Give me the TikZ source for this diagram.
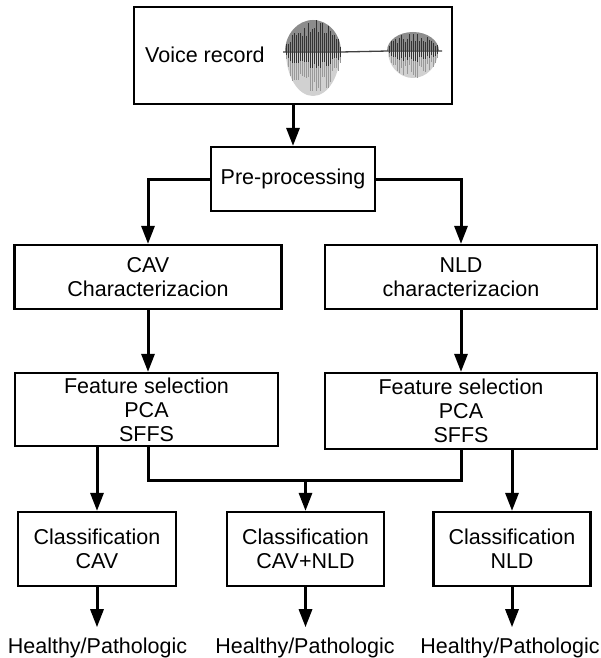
\documentclass[tikz,border=0pt]{standalone}
\usepackage{fontspec}
\setmainfont{Liberation Sans}
\usetikzlibrary{arrows.meta}
\begin{document}
\begin{tikzpicture}[x=1pt, y=-1pt,
    box/.style={draw, line width=2.2pt, inner sep=0pt, align=center, font=\fontsize{21.5}{24}\selectfont},
    outtext/.style={inner sep=0pt, anchor=base, font=\fontsize{21.5}{24}\selectfont},
    flow/.style={->, line width=3pt},
    >={Triangle[width=13pt, length=18pt]}]
  \useasboundingbox (0,0) rectangle (600,658);
  % boxes
  \node[box, minimum width=318pt, minimum height=97pt] (voice) at (293,55.5) {};
  \node[anchor=west, inner sep=0pt, font=\fontsize{21.5}{24}\selectfont] (voicetext) at (145,55) {Voice record};
  \node[box, minimum width=164pt, minimum height=64pt] (pre) at (293,179) {Pre-processing};
  \node[box, minimum width=267pt, minimum height=64pt] (cav) at (148,277) {CAV\\Characterizacion};
  \node[box, minimum width=272pt, minimum height=64pt] (nld) at (461,277) {NLD\\characterizacion};
  \node[box, minimum width=263pt, minimum height=73pt] (featL) at (146.5,409.5) {Feature selection\\PCA\\SFFS};
  \node[box, minimum width=272pt, minimum height=76pt] (featR) at (461,411) {Feature selection\\PCA\\SFFS};
  \node[box, minimum width=158pt, minimum height=74pt] (clsCAV) at (97,549) {Classification\\CAV};
  \node[box, minimum width=157pt, minimum height=74pt] (clsMix) at (305.5,549) {Classification\\CAV+NLD};
  \node[box, minimum width=157pt, minimum height=74pt] (clsNLD) at (512,549) {Classification\\NLD};
  \node[outtext] (outCAV) at (97.5,653) {Healthy/Pathologic};
  \node[outtext] (outMix) at (305,653) {Healthy/Pathologic};
  \node[outtext] (outNLD) at (510,653) {Healthy/Pathologic};
  % waveform
  \begin{scope}
    \clip (280,10) rectangle (350,52);
    \fill[black!45] (313,52) ellipse [x radius=28pt, y radius=32pt];
  \end{scope}
  \begin{scope}
    \clip (280,52) rectangle (350,100);
    \fill[black!18] (313,52) ellipse [x radius=27pt, y radius=44pt];
  \end{scope}
  \begin{scope}
    \clip (380,10) rectangle (445,51);
    \fill[black!45] (413,51) ellipse [x radius=26pt, y radius=19pt];
  \end{scope}
  \begin{scope}
    \clip (380,51) rectangle (445,90);
    \fill[black!18] (413,51) ellipse [x radius=25pt, y radius=27pt];
  \end{scope}
  \draw[black!75, line width=1.3pt] (283,52) -- (341,52) -- (388,51) -- (442,51);
  \pgfmathsetseed{7}
  \foreach \i in {0,...,27} {
    \pgfmathsetmacro{\xx}{286+2*\i}
    \pgfmathsetmacro{\env}{sqrt(1-((\xx-313)/28)^2)}
    \pgfmathsetmacro{\up}{32*\env*(0.5+0.5*rnd)}
    \pgfmathsetmacro{\dn}{44*\env*(0.5+0.5*rnd)}
    \draw[black!40, line width=0.8pt] (\xx,52) -- (\xx,52+\dn);
    \draw[black!80, line width=0.8pt] (\xx,52-\up) -- (\xx,52+0.4*\dn);
  }
  \foreach \i in {0,...,24} {
    \pgfmathsetmacro{\xx}{389+2*\i}
    \pgfmathsetmacro{\env}{sqrt(1-((\xx-413)/26)^2)}
    \pgfmathsetmacro{\up}{19*\env*(0.5+0.5*rnd)}
    \pgfmathsetmacro{\dn}{27*\env*(0.5+0.5*rnd)}
    \draw[black!40, line width=0.8pt] (\xx,51) -- (\xx,51+\dn);
    \draw[black!80, line width=0.8pt] (\xx,51-\up) -- (\xx,51+0.4*\dn);
  }
  % connectors
  \draw[flow] (voice) -- (pre);
  \draw[flow] (pre.west) -| (cav);
  \draw[flow] (pre.east) -| (nld);
  \draw[flow] (cav.south) -- (cav.south |- featL.north);
  \draw[flow] (nld) -- (featR);
  \draw[flow] (clsCAV |- featL.south) -- (clsCAV);
  \draw[line width=3pt] (cav.south |- featL.south) -- ++(0,33) coordinate (joinL) -| (featR.south);
  \draw[flow] (clsMix |- joinL) -- (clsMix);
  \draw[flow] (clsNLD |- featR.south) -- (clsNLD);
  \draw[flow, shorten >=10pt] (clsCAV) -- (clsCAV |- outCAV.north);
  \draw[flow, shorten >=10pt] (clsMix) -- (clsMix |- outMix.north);
  \draw[flow, shorten >=10pt] (clsNLD) -- (clsNLD |- outNLD.north);
\end{tikzpicture}
\end{document}
